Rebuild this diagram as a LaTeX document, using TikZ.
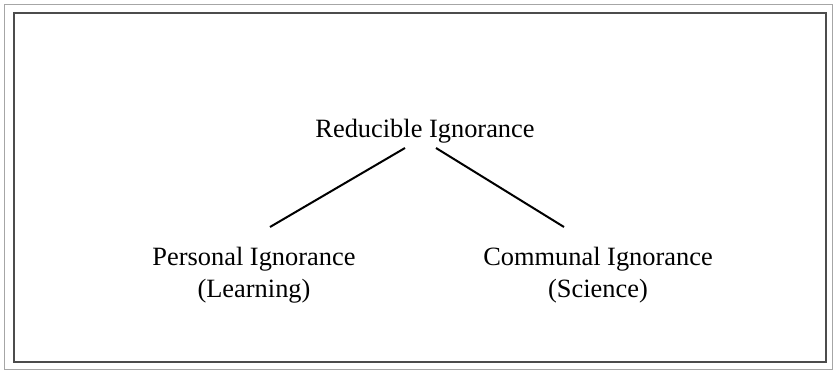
\documentclass[tikz,border=0pt]{standalone}
\usepackage{fontspec}
\setmainfont{Liberation Serif}
\begin{document}
\begin{tikzpicture}[x=1bp,y=1bp,
  lbl/.style={inner sep=0pt, align=center, font=\fontsize{26.4bp}{32bp}\selectfont, anchor=base},
  branch/.style={line width=2bp, black}]
\useasboundingbox (0,0) rectangle (833,371);
\draw[line width=0.8bp, black!35] (4,2) rectangle (832,367);
\draw[line width=1.5bp, black!70] (14,9) rectangle (826,358);
\node[lbl] (top) at (425,234) {Reducible Ignorance};
\node[lbl] (left) at (254,74) {Personal Ignorance\\(Learning)};
\node[lbl] (right) at (598,74) {Communal Ignorance\\(Science)};
\coordinate (lend) at (270,144);
\coordinate (rend) at (564,144);
\draw[branch] ([xshift=-20bp,yshift=-11bp]top.base) -- (lend);
\draw[branch] ([xshift=11bp,yshift=-11bp]top.base) -- (rend);
\end{tikzpicture}
\end{document}
